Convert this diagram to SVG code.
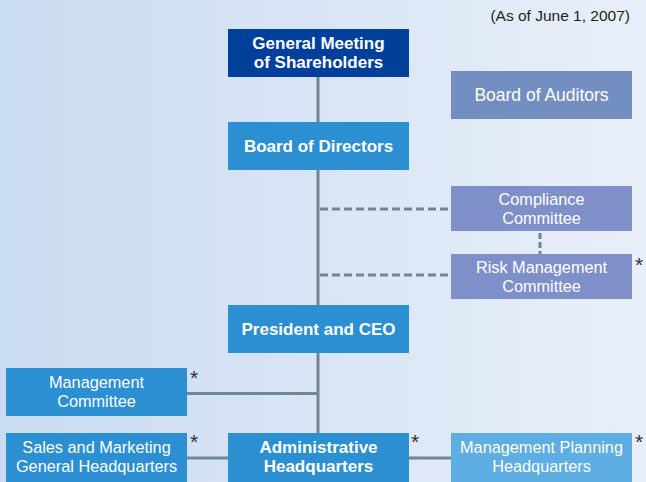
<svg xmlns="http://www.w3.org/2000/svg" width="646" height="482" viewBox="0 0 646 482">
<defs>
<linearGradient id="bg" x1="0" y1="0" x2="1" y2="0">
<stop offset="0" stop-color="#c9dbf1"/>
<stop offset="1" stop-color="#e9eff9"/>
</linearGradient>
</defs>
<style>
text{font-family:"Liberation Sans",Arial,sans-serif;fill:#fff;font-size:16.3px;text-anchor:middle}
.b{font-weight:bold;font-size:17px}
.ln{stroke:#6e8891;stroke-width:3;fill:none}
.dash{stroke:#6e8891;stroke-width:3;fill:none;stroke-dasharray:8,4}
.ast{fill:#333;font-size:21px;text-anchor:start}
</style>
<rect width="646" height="482" fill="url(#bg)"/>
<text x="630" y="21" style="fill:#231f20;font-size:15.5px;text-anchor:end">(As of June 1, 2007)</text>
<g id="connectors">
<line class="ln" x1="318" y1="77" x2="318" y2="122"/>
<line class="ln" x1="318" y1="170" x2="318" y2="305"/>
<line class="dash" x1="320" y1="209" x2="451" y2="209"/>
<line class="dash" x1="320" y1="275" x2="451" y2="275"/>
<line class="dash" x1="540" y1="233" x2="540" y2="254" style="stroke-dasharray:6,3"/>
<line class="ln" x1="318" y1="353" x2="318" y2="433"/>
<line class="ln" x1="187" y1="393.5" x2="318" y2="393.5"/>
<line class="ln" x1="187" y1="458" x2="228" y2="458"/>
<line class="ln" x1="409" y1="458" x2="451" y2="458"/>
</g>
<g id="gms">
<rect x="228" y="29" width="181" height="48" fill="#00409a"/>
<text class="b" x="318.5" y="49">General Meeting</text>
<text class="b" x="318.5" y="68">of Shareholders</text>
</g>
<g id="auditors">
<rect x="451" y="71" width="181" height="48" fill="#738fc1"/>
<text x="541.5" y="101" style="font-size:17.5px">Board of Auditors</text>
</g>
<g id="directors">
<rect x="228" y="122" width="181" height="48" fill="#2b8fd2"/>
<text class="b" x="318.5" y="152">Board of Directors</text>
</g>
<g id="compliance">
<rect x="451" y="186" width="181" height="45" fill="#7f8fca"/>
<text x="541.5" y="205">Compliance</text>
<text x="541.5" y="224">Committee</text>
</g>
<g id="risk">
<rect x="451" y="254" width="181" height="45" fill="#7f8fca"/>
<text x="541.5" y="273">Risk Management</text>
<text x="541.5" y="292">Committee</text>
<text class="ast" x="635" y="272">*</text>
</g>
<g id="ceo">
<rect x="228" y="305" width="181" height="48" fill="#2b8fd2"/>
<text class="b" x="318.5" y="335">President and CEO</text>
</g>
<g id="mgmt">
<rect x="6" y="368" width="181" height="48" fill="#2b8fd2"/>
<text x="96.5" y="388">Management</text>
<text x="96.5" y="407">Committee</text>
<text class="ast" x="190" y="385">*</text>
</g>
<g id="sales">
<rect x="6" y="433" width="181" height="49" fill="#2b8fd2"/>
<text x="96.5" y="453">Sales and Marketing</text>
<text x="96.5" y="472">General Headquarters</text>
<text class="ast" x="190" y="449">*</text>
</g>
<g id="admin">
<rect x="228" y="433" width="181" height="49" fill="#2b8fd2"/>
<text class="b" x="318.5" y="453">Administrative</text>
<text class="b" x="318.5" y="472">Headquarters</text>
<text class="ast" x="411" y="449">*</text>
</g>
<g id="planning">
<rect x="451" y="433" width="181" height="49" fill="#5eade3"/>
<text x="541.5" y="453">Management Planning</text>
<text x="541.5" y="472">Headquarters</text>
<text class="ast" x="635" y="449">*</text>
</g>
</svg>
